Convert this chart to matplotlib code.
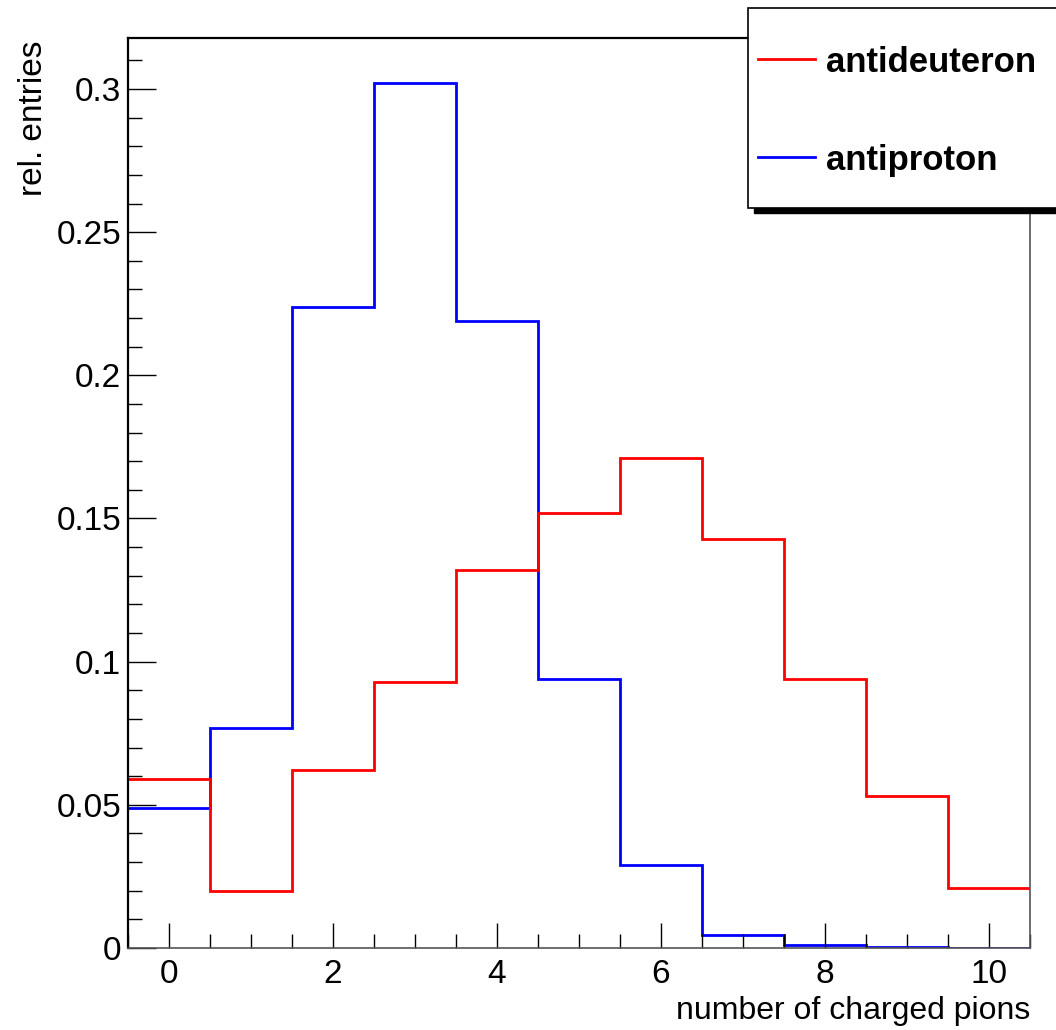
import numpy as np
import matplotlib.pyplot as plt
from matplotlib.ticker import MultipleLocator
from matplotlib.patches import Rectangle
from matplotlib.lines import Line2D

# -------------------------------
# Data (relative entries per bin)
# -------------------------------
n_pions = np.arange(0, 11)
edges = np.arange(-0.5, 11.0, 1.0)

antideuteron = [0.059, 0.020, 0.062, 0.093, 0.132, 0.152, 0.171, 0.143, 0.094, 0.053, 0.021]
antiproton = [0.049, 0.077, 0.224, 0.302, 0.219, 0.094, 0.029, 0.0046, 0.0010, 0.0002, 0.0001]

labels = ['antideuteron', 'antiproton']
colors = ['#ff0000', '#0000ff']

YMAX = 0.3178

# -------------------------------
# Plot
# -------------------------------
plt.rcParams['font.family'] = ['Liberation Sans', 'DejaVu Sans']

W, H = 1056, 1030
fig = plt.figure(figsize=(W / 100, H / 100), dpi=100)
ax = fig.add_axes([128 / W, 1 - 948 / H, (1030 - 128) / W, (948 - 38) / H])

ax.stairs(antiproton, edges, baseline=None, color=colors[1], lw=2.0)
ax.stairs(antideuteron, edges, baseline=None, color=colors[0], lw=2.0)

ax.set_xlim(-0.5, 10.5)
ax.set_ylim(0, YMAX)

ax.xaxis.set_major_locator(MultipleLocator(2))
ax.xaxis.set_minor_locator(MultipleLocator(0.5))
ax.yaxis.set_minor_locator(MultipleLocator(0.01))
ax.set_yticks([0, 0.05, 0.1, 0.15, 0.2, 0.25, 0.3])
ax.set_yticklabels(['0', '0.05', '0.1', '0.15', '0.2', '0.25', '0.3'])

ax.tick_params(which='both', direction='in', width=1.0, colors='black')
ax.tick_params(axis='x', which='major', length=18, labelsize=24, pad=8)
ax.tick_params(axis='x', which='minor', length=10)
ax.tick_params(axis='y', which='major', length=20, labelsize=24, pad=5)
ax.tick_params(axis='y', which='minor', length=10)

for side in ['left', 'top']:
    ax.spines[side].set_linewidth(1.6)
    ax.spines[side].set_color('black')
for side in ['right', 'bottom']:
    ax.spines[side].set_linewidth(1.2)
    ax.spines[side].set_color('#555555')

ax.set_xlabel('number of charged pions', fontsize=23, ha='right')
ax.xaxis.set_label_coords(1.0, -0.053)
ax.xaxis.label.set_va('top')
ax.set_ylabel('rel. entries', fontsize=24, ha='right')
ax.yaxis.set_label_coords(-0.088, 0.997)

# -------------------------------
# Legend box (ROOT style with drop shadow)
# -------------------------------
def px(x, y):
    return x / W, 1 - y / H

x0, y0, x1, y1 = 748, 8, 1070, 208
sx, sy = px(x0 + 6, y1 + 5)
shadow = Rectangle((sx, sy), (x1 - x0) / W, (y1 - y0) / H, transform=fig.transFigure,
                   facecolor='black', edgecolor='black', zorder=5)
bx, by = px(x0, y1)
box = Rectangle((bx, by), (x1 - x0) / W, (y1 - y0) / H, transform=fig.transFigure,
                facecolor='white', edgecolor='black', lw=1.2, zorder=6)
fig.add_artist(shadow)
fig.add_artist(box)

for lab, col, ypos in zip(labels, colors, [59, 157]):
    lx0, ly = px(758, ypos)
    lx1, _ = px(815, ypos)
    fig.add_artist(Line2D([lx0, lx1], [ly, ly], transform=fig.transFigure,
                          color=col, lw=2.0, zorder=7))
    tx, ty = px(826, ypos)
    fig.text(tx, ty, lab, fontsize=25, fontweight='bold', ha='left', va='center_baseline',
             zorder=8)

plt.savefig('out.png', dpi=100)
